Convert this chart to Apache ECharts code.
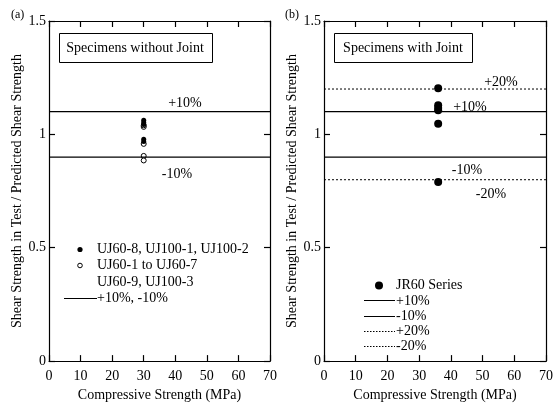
<!DOCTYPE html>
<html><head><meta charset="utf-8">
<script src="https://cdn.jsdelivr.net/npm/echarts@6/dist/echarts.min.js"></script>
<style>html,body{margin:0;padding:0;background:#fff}#c{width:558px;height:407px}</style>
</head><body><div id="c"></div>
<script>
// Data
const xTicks = [0, 10, 20, 30, 40, 50, 60, 70];
const yTicks = [0, 0.5, 1, 1.5];
// Panel (a): specimens without joint
const aFilledX = [30, 30, 30, 30, 30];
const aFilledY = [1.062, 1.052, 1.043, 0.978, 0.968];
const aOpenX = [30, 30, 30, 30, 30];
const aOpenY = [1.033, 0.958, 0.905, 0.885, 1.04];
const aLimits = [1.1, 0.9];
// Panel (b): specimens with joint (JR60 series)
const bX = [36, 36, 36, 36, 36, 36];
const bY = [1.203, 1.128, 1.116, 1.106, 1.047, 0.79];
const bLimits10 = [1.1, 0.9];
const bLimits20 = [1.2, 0.8];

const F = 'Liberation Serif';
const chart = echarts.init(document.getElementById('c'));

function xa(gi, show) {
  return {
    gridIndex: gi, type: 'value', min: xTicks[0], max: xTicks[xTicks.length - 1], interval: 10,
    position: show ? 'bottom' : 'top',
    name: show ? 'Compressive Strength (MPa)' : '', nameLocation: 'middle', nameGap: 23,
    nameTextStyle: {fontFamily: F, fontSize: 14, color: '#000'},
    axisLine: {show: true, onZero: false, lineStyle: {color: '#000', width: 1.2}},
    axisTick: {show: true, inside: true, length: 6, lineStyle: {color: '#000', width: 1.2}},
    axisLabel: {show: show, fontFamily: F, fontSize: 14, color: '#000', margin: 8},
    splitLine: {show: false}
  };
}
function ya(gi, show) {
  return {
    gridIndex: gi, type: 'value', min: yTicks[0], max: yTicks[yTicks.length - 1], interval: 0.5,
    position: show ? 'left' : 'right',
    name: show ? 'Shear Strength in Test / Predicted Shear Strength' : '',
    nameLocation: 'middle', nameGap: 24, nameRotate: 90,
    nameTextStyle: {fontFamily: F, fontSize: 14, color: '#000'},
    axisLine: {show: true, onZero: false, lineStyle: {color: '#000', width: 1.2}},
    axisTick: {show: true, inside: true, length: 6, lineStyle: {color: '#000', width: 1.2}},
    axisLabel: {show: show, fontFamily: F, fontSize: 14, color: '#000', margin: 3},
    splitLine: {show: false}
  };
}
function hline(y, xi, yi, dashed) {
  return {
    type: 'line', xAxisIndex: xi, yAxisIndex: yi, data: [[0, y], [70, y]],
    symbol: 'none', silent: true,
    lineStyle: {color: '#000', width: dashed ? 1 : 1.2, type: dashed ? [2, 2] : 'solid'}
  };
}
function pts(xs, ys) { return xs.map((x, i) => [x, ys[i]]); }

const series = [];
aLimits.forEach(v => series.push(hline(v, 0, 0, false)));
series.push({type: 'scatter', xAxisIndex: 0, yAxisIndex: 0, data: pts(aOpenX, aOpenY),
  symbol: 'circle', symbolSize: 5, itemStyle: {color: '#fff', borderColor: '#000', borderWidth: 1, opacity: 1}});
series.push({type: 'scatter', xAxisIndex: 0, yAxisIndex: 0, data: pts(aFilledX, aFilledY),
  symbol: 'circle', symbolSize: 5, itemStyle: {color: '#000', opacity: 1}});
bLimits10.forEach(v => series.push(hline(v, 2, 2, false)));
bLimits20.forEach(v => series.push(hline(v, 2, 2, true)));
series.push({type: 'scatter', xAxisIndex: 2, yAxisIndex: 2, data: pts(bX, bY),
  symbol: 'circle', symbolSize: 8, itemStyle: {color: '#000', opacity: 1}});

const ts = {fontFamily: F, fontSize: 14, fill: '#000'};
function txt(x, y, s, align, size) {
  return {type: 'text', x: x, y: y, style: Object.assign({}, ts, {text: s, align: align || 'left', verticalAlign: 'middle', fontSize: size || 14})};
}
function seg(x1, x2, y, dashed) {
  return {type: 'line', shape: {x1: x1, y1: y, x2: x2, y2: y},
    style: {stroke: '#000', lineWidth: 1, lineDash: dashed ? [1.5, 1.5] : null}};
}
const graphic = [
  txt(11, 15, '(a)', 'left', 12), txt(285, 15, '(b)', 'left', 12),
  {type: 'rect', shape: {x: 59.5, y: 33.5, width: 153, height: 29}, style: {fill: '#fff', stroke: '#000', lineWidth: 1}},
  txt(135, 48, 'Specimens without Joint', 'center'),
  {type: 'rect', shape: {x: 334.5, y: 33.5, width: 138, height: 29}, style: {fill: '#fff', stroke: '#000', lineWidth: 1}},
  txt(403, 48, 'Specimens with Joint', 'center'),
  txt(185, 103, '+10%', 'center'), txt(177, 174, '-10%', 'center'),
  txt(501, 82, '+20%', 'center'), txt(470, 107, '+10%', 'center'),
  txt(467, 170, '-10%', 'center'), txt(491, 194, '-20%', 'center'),
  // legend (a)
  {type: 'circle', shape: {cx: 80, cy: 249.5, r: 2.6}, style: {fill: '#000'}},
  txt(97, 249.5, 'UJ60-8, UJ100-1, UJ100-2'),
  {type: 'circle', shape: {cx: 80, cy: 265.5, r: 2.3}, style: {fill: '#fff', stroke: '#000', lineWidth: 1}},
  txt(97, 265.5, 'UJ60-1 to UJ60-7'),
  txt(97, 282, 'UJ60-9, UJ100-3'),
  seg(64, 97, 298.5, false),
  txt(97, 298.5, '+10%, -10%'),
  // legend (b)
  {type: 'circle', shape: {cx: 379, cy: 285.5, r: 4}, style: {fill: '#000'}},
  txt(396, 285.5, 'JR60 Series'),
  seg(364, 395, 300.5, false), txt(396, 301, '+10%'),
  seg(364, 395, 316.5, false), txt(396, 316.5, '-10%'),
  seg(364, 395, 331.5, true), txt(396, 331.5, '+20%'),
  seg(364, 395, 346.5, true), txt(396, 346.5, '-20%')
];

chart.setOption({
  animation: false,
  backgroundColor: '#fff',
  grid: [
    {left: 49, right: 288, top: 21, bottom: 38},
    {left: 324, right: 12, top: 21, bottom: 38}
  ],
  xAxis: [xa(0, true), xa(0, false), xa(1, true), xa(1, false)],
  yAxis: [ya(0, true), ya(0, false), ya(1, true), ya(1, false)],
  series: series,
  graphic: graphic
});
</script></body></html>
